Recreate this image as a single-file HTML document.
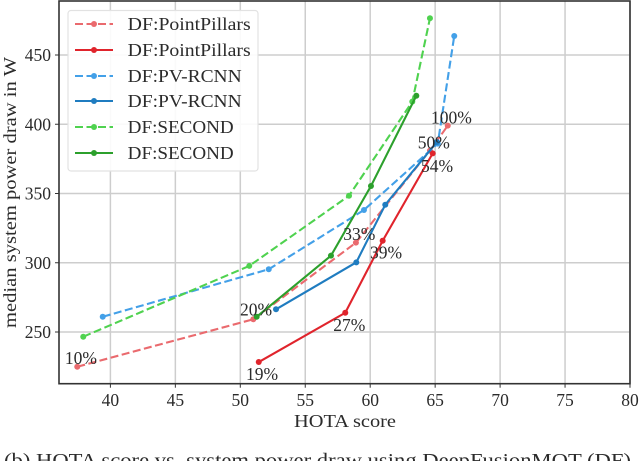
<!DOCTYPE html>
<html>
<head>
<meta charset="utf-8">
<style>
html,body{margin:0;padding:0;background:#fff;width:640px;height:461px;overflow:hidden}
svg{display:block}
text{font-family:"Liberation Serif",serif;fill:#2b2b2b}
</style>
</head>
<body>
<svg id="chart" width="640" height="461" viewBox="0 0 640 461" xmlns="http://www.w3.org/2000/svg"></svg>
<script>
const xTicks = [40, 45, 50, 55, 60, 65, 70, 75, 80];
const yTicks = [250, 300, 350, 400, 450];

const ppDashedX = [37.45, 51.0, 58.9, 64.6, 65.97];
const ppDashedY = [224.9, 259.2, 314.5, 381, 399];
const ppSolidX = [51.42, 58.08, 60.96, 64.81];
const ppSolidY = [228.3, 263.9, 315.9, 379];
const pvDashedX = [39.41, 52.19, 59.52, 65.2, 66.47];
const pvDashedY = [261, 295.3, 338.1, 386, 463.7];
const pvSolidX = [52.75, 58.93, 61.16, 65.14];
const pvSolidY = [266.4, 300.3, 341.9, 387.2];
const secDashedX = [37.91, 50.69, 58.37, 63.24, 64.6];
const secDashedY = [246.6, 297.7, 348.4, 416.3, 476.5];
const secSolidX = [51.26, 56.98, 60.06, 63.55];
const secSolidY = [261, 305.1, 355.4, 420.6];

const seriesNames = ['DF:PointPillars', 'DF:PointPillars', 'DF:PV-RCNN', 'DF:PV-RCNN', 'DF:SECOND', 'DF:SECOND'];

const annotLabels = ['10%', '20%', '33%', '19%', '27%', '39%', '100%', '50%', '54%'];
const annotX = [36.5, 49.98, 57.93, 50.44, 57.16, 59.98, 64.68, 63.66, 63.91];
const annotY = [226.9, 261.8, 316.4, 215.3, 250.7, 302.9, 400.7, 382.6, 365.7];

const svg = document.getElementById('chart');
const NS = 'http://www.w3.org/2000/svg';
const sx = v => 110.4 + (v - 40) * 12.99;
const sy = v => 332 - (v - 250) * 1.385;

function mk(tag, attrs, name, parent) {
  const el = document.createElementNS(NS, tag);
  for (const k in attrs) el.setAttribute(k, attrs[k]);
  
  
  (parent || svg).appendChild(el);
  return el;
}
function label(str, attrs, name) {
  const el = mk('text', attrs, name);
  el.textContent = str;
  return el;
}

const L = 59, R = 630, T = 1, B = 383.7;

xTicks.forEach(t => {
  mk('line', {x1: sx(t), x2: sx(t), y1: T, y2: B, stroke: '#cdcdcd', 'stroke-width': 1.5}, 'x-gridline-' + t);
  mk('line', {x1: sx(t), x2: sx(t), y1: B, y2: B + 4, stroke: '#333', 'stroke-width': 1}, 'x-tick-' + t);
  label(String(t), {x: sx(t), y: 406, 'text-anchor': 'middle', 'font-size': 17.5}, 'x-tick-label-' + t);
});
yTicks.forEach(t => {
  mk('line', {x1: L, x2: R, y1: sy(t), y2: sy(t), stroke: '#cdcdcd', 'stroke-width': 1.5}, 'y-gridline-' + t);
  mk('line', {x1: L - 4, x2: L, y1: sy(t), y2: sy(t), stroke: '#333', 'stroke-width': 1}, 'y-tick-' + t);
  label(String(t), {x: 51, y: sy(t) + 6, 'text-anchor': 'end', 'font-size': 17.5}, 'y-tick-label-' + t);
});

const styles = [
  {c: '#ea6a6e', d: '8 3.5', n: 'pointpillars-dashed', xs: ppDashedX, ys: ppDashedY},
  {c: '#e0242c', d: '',      n: 'pointpillars-solid', xs: ppSolidX, ys: ppSolidY},
  {c: '#43a0e8', d: '8 3.5', n: 'pv-rcnn-dashed', xs: pvDashedX, ys: pvDashedY},
  {c: '#1f7cc0', d: '',      n: 'pv-rcnn-solid', xs: pvSolidX, ys: pvSolidY},
  {c: '#4fd24f', d: '8 3.5', n: 'second-dashed', xs: secDashedX, ys: secDashedY},
  {c: '#2ca02c', d: '',      n: 'second-solid', xs: secSolidX, ys: secSolidY}
];

styles.forEach(s => {
  const pts = s.xs.map((x, i) => sx(x) + ',' + sy(s.ys[i])).join(' ');
  mk('polyline', {points: pts, fill: 'none', stroke: s.c, 'stroke-width': 2.1, 'stroke-dasharray': s.d}, 'line-' + s.n);
  s.xs.forEach((x, i) => {
    mk('circle', {cx: sx(x), cy: sy(s.ys[i]), r: 3, fill: s.c}, 'point-' + s.n + '-' + i);
  });
});

mk('rect', {x: 59, y: T, width: R - L, height: B - T, fill: 'none', stroke: '#333', 'stroke-width': 1.6}, 'plot-frame');

annotLabels.forEach((t, i) => {
  label(t, {x: sx(annotX[i]), y: sy(annotY[i]), 'font-size': 17.5, fill: '#222'}, 'annotation-' + t);
});

mk('rect', {x: 68, y: 10.5, width: 190, height: 160.5, rx: 3, ry: 3, fill: 'rgba(255,255,255,0.9)', stroke: '#e2e2e2', 'stroke-width': 1.2}, 'legend-box');
const rows = [24, 50, 76, 101, 127, 153];
styles.forEach((s, i) => {
  const y = rows[i];
  mk('line', {x1: 75, x2: 113, y1: y, y2: y, stroke: s.c, 'stroke-width': 2.1, 'stroke-dasharray': s.d}, 'legend-line-' + s.n);
  mk('circle', {cx: 94, cy: y, r: 3, fill: s.c}, 'legend-marker-' + s.n);
  label(seriesNames[i], {x: 127.7, y: y + 6, 'font-size': 17.5, textLength: seriesNames[i] === 'DF:PointPillars' ? 123 : (seriesNames[i] === 'DF:PV-RCNN' ? 114 : 106), lengthAdjust: 'spacingAndGlyphs'}, 'legend-label-' + s.n);
});

label('HOTA score', {x: 294, y: 427, 'font-size': 18, textLength: 102, lengthAdjust: 'spacingAndGlyphs'}, 'x-axis-title');
label('median system power draw in W', {x: 0, y: 0, 'font-size': 18, textLength: 271, lengthAdjust: 'spacingAndGlyphs', transform: 'translate(16 328) rotate(-90)'}, 'y-axis-title');
label('(b) HOTA score vs. system power draw using DeepFusionMOT (DF)', {x: 4, y: 467, 'font-size': 20, textLength: 627, lengthAdjust: 'spacingAndGlyphs', fill: '#222'}, 'figure-caption');
</script>
</body>
</html>
